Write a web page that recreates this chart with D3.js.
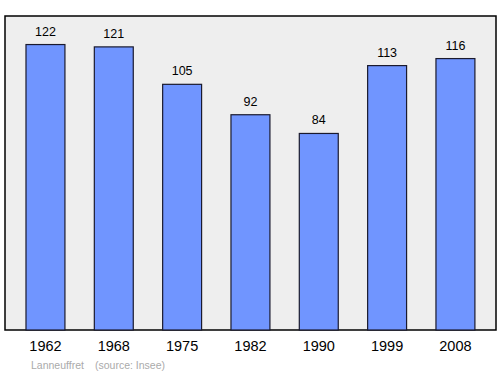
<!DOCTYPE html>
<html>
<head>
<meta charset="utf-8">
<script src="https://cdn.jsdelivr.net/npm/d3@7"></script>
<style>
body { margin: 0; background: #fff; }
text { font-family: "Liberation Sans", Arial, sans-serif; }
</style>
</head>
<body>
<script>
// population data
var years = ['1962', '1968', '1975', '1982', '1990', '1999', '2008'];
var population = [122, 121, 105, 92, 84, 113, 116];
var placeName = 'Lanneuffret';
var sourceText = '(source: Insee)';

var W = 500, H = 374;
var plot = {left: 5, top: 16, right: 496, bottom: 330};

var svg = d3.select('body').append('svg').attr('width', W).attr('height', H);

var x = d3.scaleBand().domain(years).range([11.3, 489.6]).paddingInner(0.43).paddingOuter(0.215);
var y = d3.scaleLinear().domain([0, 134.2]).range([plot.bottom, plot.top]);

svg.append('rect')
    .attr('x', plot.left).attr('y', plot.top)
    .attr('width', plot.right - plot.left).attr('height', plot.bottom - plot.top)
    .attr('fill', '#eeeeee').attr('stroke', '#000').attr('stroke-width', 1.5);

svg.selectAll('.bar').data(population).enter().append('rect')
    .attr('class', 'bar')
    .attr('x', function(d, i){ return x(years[i]); })
    .attr('y', function(d){ return y(d); })
    .attr('width', x.bandwidth())
    .attr('height', function(d){ return y(0) - y(d); })
    .attr('fill', '#7095ff').attr('stroke', '#1a1a2e').attr('stroke-width', 1.2);

svg.selectAll('.val').data(population).enter().append('text')
    .attr('class', 'val')
    .attr('x', function(d, i){ return x(years[i]) + x.bandwidth() / 2; })
    .attr('y', function(d){ return y(d) - 9; })
    .attr('text-anchor', 'middle').attr('font-size', 12.5).attr('fill', '#000')
    .text(function(d){ return d; });

var xAxis = svg.append('g').attr('transform', 'translate(0,' + plot.bottom + ')')
    .call(d3.axisBottom(x).tickSize(0).tickPadding(11));
xAxis.select('.domain').remove();
xAxis.selectAll('text').attr('font-size', 14.5).attr('fill', '#000')
    .style('font-family', '"Liberation Sans", Arial, sans-serif');

svg.append('text').attr('x', 31).attr('y', 369).attr('font-size', 10.5).attr('fill', '#aaaaaa').text(placeName);
svg.append('text').attr('x', 95).attr('y', 369).attr('font-size', 10.5).attr('fill', '#aaaaaa').text(sourceText);
</script>
</body>
</html>
